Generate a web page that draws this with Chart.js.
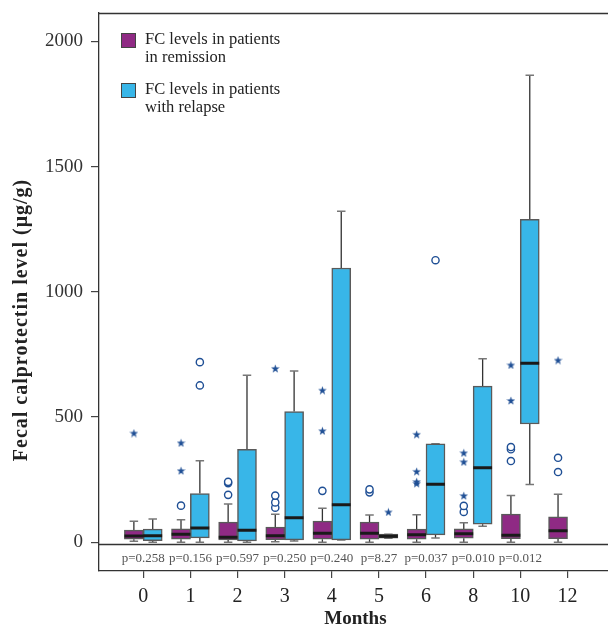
<!DOCTYPE html>
<html>
<head>
<meta charset="utf-8">
<script src="https://cdn.jsdelivr.net/npm/chart.js@4.4.3/dist/chart.umd.min.js"></script>
<style>
  html, body { margin: 0; padding: 0; background: #fff; }
  #wrap { position: relative; width: 608px; height: 627px; }
  #legend {
    position: absolute; left: 121px; top: 30px;
    font-family: "Liberation Serif", "DejaVu Serif", serif;
    font-size: 16.5px; line-height: 18px; color: #222;
  }
  .lg-item { display: flex; align-items: flex-start; margin-bottom: 14px; }
  .lg-box { width: 13px; height: 13px; border: 1px solid #444; margin: 3px 9px 0 0; flex: none; }
</style>
</head>
<body>
<div id="wrap">
  <canvas id="chart" width="608" height="627"></canvas>
  <div id="legend"></div>
</div>
<script>
  /* ── Data ───────────────────────────────────────────────────────────── */
  const months  = ["0", "1", "2", "3", "4", "5", "6", "8", "10", "12"];
  const pValues = ["p=0.258", "p=0.156", "p=0.597", "p=0.250", "p=0.240",
                   "p=8.27", "p=0.037", "p=0.010", "p=0.012", ""];
  const yTicks  = [0, 500, 1000, 1500, 2000];

  // remission (purple)
  const remMin = [4, 0, 0, 2, 0, 0, 0, 0, 0, 0];
  const remQ1  = [12, 12, 9, 10, 12, 12, 12, 16, 14, 14];
  const remMed = [25, 32, 20, 26, 36, 36, 30, 34, 28, 46];
  const remQ3  = [48, 53, 80, 60, 84, 80, 52, 53, 112, 101];
  const remMax = [84, 90, 153, 112, 136, 109, 110, 78, 186, 191];
  const remCircles = [[], [146], [189, 236, 241], [138, 159, 186], [205],
                      [199, 211], [], [121, 145], [324, 371, 380], [280, 337]];
  const remStars   = [[436], [286, 397], [], [694], [445, 607], [],
                      [235, 242, 283, 431], [186, 321, 357], [566, 708], [727]];

  // relapse (blue) – no box at 12 months
  const relMin = [0, 0, 0, 5, 9, 16, 17, 64, 230, null];
  const relQ1  = [6, 17, 5, 9, 9, 16, 29, 72, 472, null];
  const relMed = [26, 57, 48, 98, 150, 24, 231, 297, 715, null];
  const relQ3  = [52, 194, 371, 522, 1095, 32, 393, 623, 1289, null];
  const relMax = [93, 325, 667, 684, 1321, 32, 393, 732, 1864, null];
  const relCircles = [[], [626, 719], [], [], [], [], [1126], [], [], []];
  const relStars   = [[], [], [], [], [], [121], [], [], [], []];

  /* ── Styling ────────────────────────────────────────────────────────── */
  const PURPLE = "#8f2a84";
  const BLUE   = "#38b6e8";
  const NAVY   = "#1f4f95";
  const SERIF  = "'Liberation Serif', 'DejaVu Serif', serif";
  const OFF    = 0.2;   // half distance between the two boxes of a month
  const CAP    = 0.09;  // half width of whisker caps

  /* ── Helpers that turn the arrays into chart points ─────────────────── */
  function boxPoints(q1, q3, dx) {
    return months.map((_, i) => q1[i] == null ? null : { x: i + dx, y: [q1[i], q3[i]] })
                 .filter(Boolean);
  }
  function medianPoints(med, dx) {
    const pts = [];
    med.forEach((m, i) => {
      if (m == null) return;
      pts.push({ x: i + dx - OFF, y: m }, { x: i + dx + OFF, y: m }, { x: i + dx, y: null });
    });
    return pts;
  }
  function whiskerPoints(min, q1, q3, max, dx) {
    const pts = [];
    min.forEach((_, i) => {
      if (min[i] == null) return;
      const c = i + dx;
      pts.push({ x: c, y: q3[i] }, { x: c, y: max[i] }, { x: c, y: null });
      pts.push({ x: c, y: q1[i] }, { x: c, y: min[i] }, { x: c, y: null });
    });
    return pts;
  }
  function capPoints(min, max, dx) {
    const pts = [];
    min.forEach((_, i) => {
      if (min[i] == null) return;
      const c = i + dx;
      [min[i], max[i]].forEach((v) => {
        pts.push({ x: c - CAP, y: v }, { x: c + CAP, y: v }, { x: c, y: null });
      });
    });
    return pts;
  }
  function outlierPoints(lists, dx) {
    return lists.flatMap((vals, i) => vals.map((v) => ({ x: i + dx, y: v })));
  }

  // filled five-point star used as point style
  function makeStar(size, color) {
    const c = document.createElement("canvas");
    c.width = c.height = size;
    const g = c.getContext("2d");
    const cx = size / 2, cy = size / 2 + 0.5, R = size / 2, r = R * 0.4;
    g.beginPath();
    for (let k = 0; k < 10; k++) {
      const rad = k % 2 ? r : R;
      const a = -Math.PI / 2 + k * Math.PI / 5;
      g.lineTo(cx + rad * Math.cos(a), cy + rad * Math.sin(a));
    }
    g.closePath();
    g.fillStyle = color;
    g.fill();
    return c;
  }
  const starImg = makeStar(9, NAVY);

  /* ── Extra drawing: frame, zero line, p-values, axis titles ─────────── */
  const decorPlugin = {
    id: "decor",
    afterDraw(chart) {
      const { ctx, chartArea: a, scales: { x, y } } = chart;
      ctx.save();
      ctx.strokeStyle = "#333";
      ctx.lineWidth = 1.3;
      ctx.beginPath();
      ctx.moveTo(a.left, a.top + 0.5); ctx.lineTo(a.right, a.top + 0.5);
      const zy = Math.round(y.getPixelForValue(0)) + 2.5;
      ctx.moveTo(a.left, zy); ctx.lineTo(a.right, zy);
      ctx.stroke();

      ctx.fillStyle = "#555";
      ctx.font = "13px " + SERIF;
      ctx.textAlign = "center";
      ctx.textBaseline = "middle";
      pValues.forEach((p, i) => {
        if (p) ctx.fillText(p, x.getPixelForValue(i), (zy + a.bottom) / 2 + 1);
      });

      ctx.fillStyle = "#222";
      ctx.font = "bold 19px " + SERIF;
      ctx.fillText("Months", (x.getPixelForValue(0) + x.getPixelForValue(9)) / 2, 619);

      ctx.translate(22, 320);
      ctx.rotate(-Math.PI / 2);
      ctx.font = "bold 20px " + SERIF;
      ctx.letterSpacing = "1px";
      ctx.fillText("Fecal calprotectin level (\u03bcg/g)", 0, 0);
      ctx.restore();
    },
  };

  /* ── Chart ──────────────────────────────────────────────────────────── */
  Chart.defaults.font.family = SERIF;
  Chart.defaults.color = "#222";

  const boxStyle = {
    type: "bar", borderColor: "#5a5a5a", borderWidth: 1.5, borderSkipped: false,
    grouped: false, barThickness: 19, maxBarThickness: 19,
    barPercentage: 1, categoryPercentage: 1, order: 3,
  };

  const datasets = [
    { ...boxStyle, label: "FC levels in patients\nin remission",
      data: boxPoints(remQ1, remQ3, -OFF), backgroundColor: PURPLE },
    { ...boxStyle, label: "FC levels in patients\nwith relapse",
      data: boxPoints(relQ1, relQ3, OFF), backgroundColor: BLUE },
    { type: "line", data: medianPoints(remMed, -OFF).concat(medianPoints(relMed, OFF)),
      borderColor: "#1a1a1a", borderWidth: 3, pointRadius: 0, spanGaps: false, order: 1 },
    { type: "line", data: whiskerPoints(remMin, remQ1, remQ3, remMax, -OFF)
                          .concat(whiskerPoints(relMin, relQ1, relQ3, relMax, OFF)),
      borderColor: "#333", borderWidth: 1.3, pointRadius: 0, spanGaps: false, order: 5 },
    { type: "line", data: capPoints(remMin, remMax, -OFF).concat(capPoints(relMin, relMax, OFF)),
      borderColor: "#777", borderWidth: 1.5, pointRadius: 0, spanGaps: false, order: 4 },
    { type: "scatter", data: outlierPoints(remCircles, -OFF).concat(outlierPoints(relCircles, OFF)),
      pointStyle: "circle", pointRadius: 3.6, borderColor: NAVY, backgroundColor: "#fff",
      borderWidth: 1.4, order: 0 },
    { type: "scatter", data: outlierPoints(remStars, -OFF).concat(outlierPoints(relStars, OFF)),
      pointStyle: starImg, pointRadius: 5, order: 0 },
  ];

  // keep the plot frame exactly where the figure has it
  function noPad(s) { s.paddingTop = s.paddingBottom = s.paddingLeft = s.paddingRight = 0; }

  new Chart(document.getElementById("chart"), {
    type: "bar",
    data: { datasets },
    plugins: [decorPlugin],
    options: {
      responsive: false,
      animation: false,
      layout: { autoPadding: false, padding: { top: 13, right: 0, left: 0, bottom: 0 } },
      plugins: { legend: { display: false }, tooltip: { enabled: false } },
      scales: {
        x: {
          type: "linear", min: -0.94, max: 9.86, offset: false,
          afterFit: (s) => { s.height = 56; noPad(s); },
          afterBuildTicks: (s) => { s.ticks = months.map((_, i) => ({ value: i })); },
          grid: { drawOnChartArea: false, offset: false, tickLength: 7, color: "#444", lineWidth: 1.2 },
          border: { display: true, color: "#333", width: 1.3 },
          ticks: { callback: (v) => months[v], font: { size: 20 }, padding: 7, maxRotation: 0, autoSkip: false },
        },
        y: {
          min: -115, max: 2113,
          afterFit: (s) => { s.width = 99; noPad(s); },
          afterBuildTicks: (s) => { s.ticks = yTicks.map((v) => ({ value: v })); },
          grid: { drawOnChartArea: false, tickLength: 8, color: "#444", lineWidth: 1.2 },
          border: { display: true, color: "#333", width: 1.3 },
          ticks: { callback: (v) => String(v), font: { size: 19 }, padding: 8, color: "#333" },
        },
      },
    },
  });

  /* ── HTML legend from the dataset labels ────────────────────────────── */
  const legend = document.getElementById("legend");
  datasets.slice(0, 2).forEach((ds) => {
    const item = document.createElement("div");
    item.className = "lg-item";
    item.innerHTML = `<span class="lg-box" style="background:${ds.backgroundColor}"></span>` +
      `<span>${ds.label.split("\n").join("<br>")}</span>`;
    legend.appendChild(item);
  });
</script>
</body>
</html>
